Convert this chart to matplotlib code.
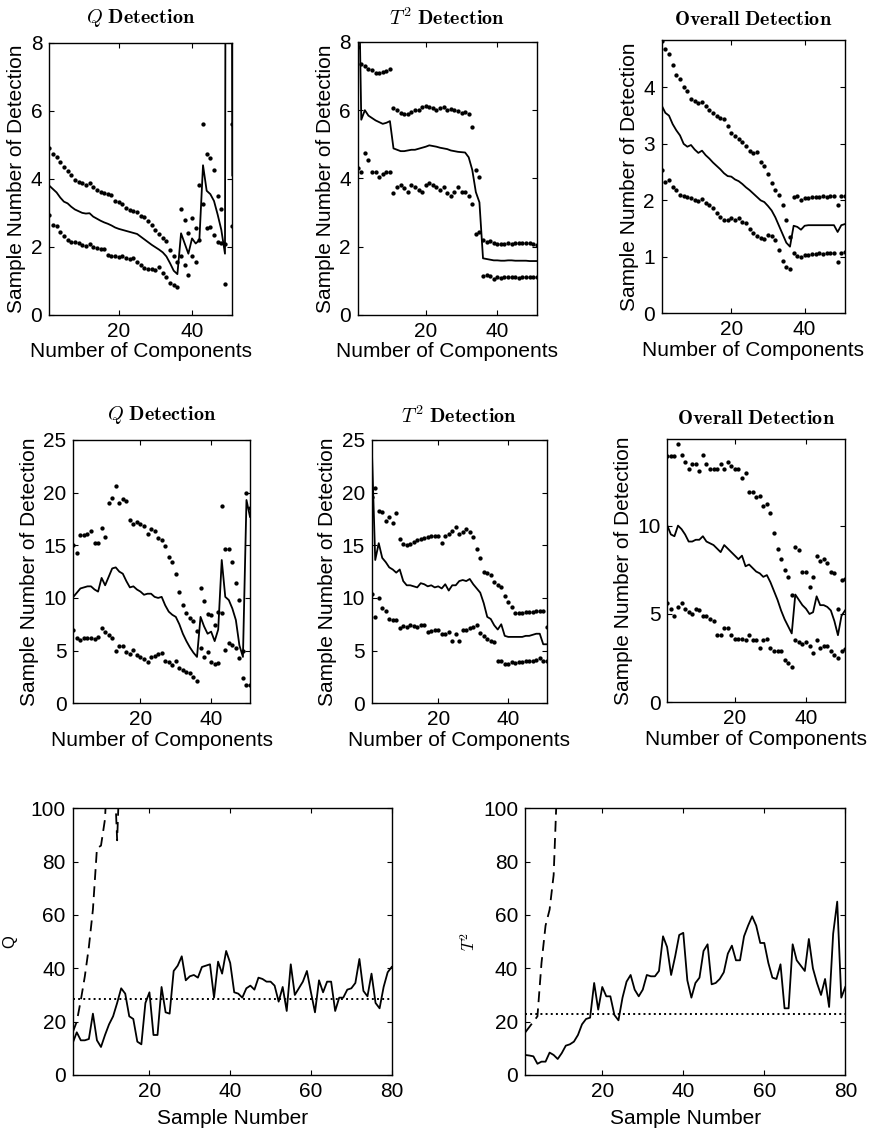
import numpy as np
import matplotlib
matplotlib.use("Agg")
import matplotlib.pyplot as plt

plt.rcParams['font.family'] = ['Liberation Sans', 'DejaVu Sans']
plt.rcParams['mathtext.fontset'] = 'cm'

comp = np.arange(1, 52)   # numero de componentes
samp = np.arange(1, 81)   # numero de muestra

# ---- fila 1 ----
q1_mean = [3.8, 3.7, 3.6, 3.45, 3.33, 3.28, 3.18, 3.1, 3.05, 3.0,
           2.98, 2.99, 2.89, 2.83, 2.77, 2.72, 2.68, 2.63, 2.57, 2.53,
           2.5, 2.47, 2.44, 2.41, 2.38, 2.3, 2.22, 2.14, 2.06, 1.99,
           1.92, 1.84, 1.72, 1.52, 1.3, 1.2, 2.4, 2.1, 1.8, 2.25,
           2.1, 2.2, 4.4, 3.65, 3.55, 3.35, 2.95, 2.5, 1.8, 60.0, 4.1]
q1_upper = [4.9, 4.72, 4.65, 4.5, 4.35, 4.22, 4.1, 3.98, 3.92, 3.87,
            3.83, 3.88, 3.76, 3.68, 3.62, 3.58, 3.55, 3.53, 3.36, 3.31,
            3.26, 3.15, 3.09, 3.06, 3.02, 2.92, 2.88, 2.75, 2.63, 2.5,
            2.38, 2.25, 2.16, 1.92, 1.72, 1.55, 3.12, 2.8, 2.4, 2.85,
            2.55, 3.82, 5.6, 4.73, 4.62, 4.25, 3.5, 3.12, 2.1, 65.0, 5.6]
q1_lower = [2.95, 2.65, 2.62, 2.45, 2.32, 2.2, 2.15, 2.14, 2.12, 2.06,
            2.02, 2.08, 2.0, 1.97, 1.94, 1.93, 1.75, 1.72, 1.72, 1.71,
            1.73, 1.66, 1.64, 1.68, 1.55, 1.46, 1.38, 1.35, 1.34, 1.33,
            1.42, 1.23, 1.13, 0.95, 0.88, 0.83, 1.72, 1.47, 1.18, 1.72,
            1.57, 2.2, 3.25, 2.55, 2.58, 2.35, 2.15, 2.12, 0.9, 55.0, 2.6]

t1_mean = [12.0, 5.72, 6.0, 5.84, 5.77, 5.7, 5.65, 5.6, 5.63, 5.68,
           4.88, 4.84, 4.8, 4.8, 4.82, 4.84, 4.84, 4.87, 4.9, 4.93,
           4.97, 4.95, 4.93, 4.9, 4.88, 4.86, 4.82, 4.8, 4.78, 4.77,
           4.76, 4.62, 4.25, 3.6, 3.3, 1.66, 1.64, 1.62, 1.6, 1.6,
           1.59, 1.59, 1.6, 1.6, 1.59, 1.59, 1.59, 1.59, 1.58, 1.58, 1.58]
t1_upper = [7.85, 7.35, 7.3, 7.2, 7.18, 7.1, 7.08, 7.12, 7.15, 7.2,
            6.06, 6.0, 5.92, 5.88, 5.9, 5.96, 6.02, 6.0, 6.1, 6.13,
            6.08, 6.06, 6.02, 6.06, 6.1, 6.02, 6.04, 6.0, 5.98, 5.92,
            5.95, 5.88, 5.52, 4.25, 4.05, 2.2, 2.15, 2.17, 2.1, 2.08,
            2.08, 2.09, 2.1, 2.09, 2.1, 2.1, 2.1, 2.11, 2.1, 2.08, 2.05]
t1_lower = [4.3, 4.19, 4.76, 4.54, 4.2, 4.2, 4.05, 4.13, 4.2, 4.2,
            3.58, 3.76, 3.81, 3.71, 3.61, 3.81, 3.76, 3.66, 3.61, 3.81,
            3.87, 3.81, 3.76, 3.66, 3.76, 3.56, 3.48, 3.61, 3.76, 3.61,
            3.61, 3.5, 3.25, 2.38, 2.43, 1.15, 1.16, 1.15, 1.06, 1.1,
            1.08, 1.1, 1.11, 1.1, 1.1, 1.08, 1.1, 1.12, 1.1, 1.1, 1.1]

o1_mean = [3.68, 3.55, 3.5, 3.35, 3.24, 3.15, 3.0, 2.95, 2.98, 2.9,
           2.84, 2.88, 2.8, 2.74, 2.67, 2.61, 2.55, 2.48, 2.43, 2.42,
           2.37, 2.34, 2.29, 2.23, 2.18, 2.12, 2.06, 2.0, 1.97, 1.9,
           1.82, 1.7, 1.55, 1.4, 1.25, 1.18, 1.55, 1.53, 1.48, 1.55,
           1.56, 1.56, 1.56, 1.56, 1.56, 1.56, 1.56, 1.56, 1.44, 1.56, 1.58]
o1_upper = [4.82, 4.68, 4.6, 4.4, 4.22, 4.15, 4.0, 3.93, 3.8, 3.76,
            3.73, 3.74, 3.67, 3.6, 3.55, 3.5, 3.46, 3.44, 3.32, 3.2,
            3.14, 3.08, 3.04, 2.97, 2.88, 2.84, 2.86, 2.68, 2.6, 2.47,
            2.3, 2.18, 2.09, 1.92, 1.66, 1.35, 2.06, 2.07, 2.0, 2.05,
            2.05, 2.06, 2.06, 2.06, 2.07, 2.06, 2.07, 2.07, 1.92, 2.07, 2.08]
o1_lower = [2.54, 2.33, 2.36, 2.24, 2.18, 2.1, 2.07, 2.06, 2.04, 2.0,
            1.98, 2.02, 1.95, 1.92, 1.86, 1.78, 1.7, 1.65, 1.65, 1.68,
            1.66, 1.68, 1.62, 1.6, 1.5, 1.42, 1.36, 1.33, 1.31, 1.39,
            1.36, 1.3, 1.12, 0.92, 0.82, 0.78, 1.06, 1.02, 1.0, 1.04,
            1.04, 1.05, 1.05, 1.06, 1.05, 1.06, 1.06, 1.06, 0.91, 1.07, 1.09]

# ---- fila 2 ----
q2_mean = [10.1, 10.5, 10.9, 11.0, 11.1, 11.1, 10.8, 10.6, 11.9, 11.2,
           12.0, 12.8, 12.9, 12.5, 12.3, 11.6, 11.0, 11.1, 10.8, 10.6,
           10.3, 10.4, 10.4, 10.1, 10.0, 10.1, 9.3, 8.7, 8.4, 8.2,
           7.5, 6.6, 5.9, 5.3, 4.8, 4.4, 8.2, 7.3, 6.6, 6.8,
           5.9, 7.0, 13.6, 10.1, 9.8, 9.0, 7.9, 5.5, 4.4, 19.3, 17.7]
q2_upper = [15.0, 14.3, 16.0, 16.0, 16.1, 16.4, 15.2, 15.2, 16.6, 15.8,
            19.0, 19.5, 20.6, 19.0, 19.4, 19.2, 17.4, 17.0, 17.2, 17.0,
            16.8, 16.1, 16.5, 16.4, 15.7, 15.5, 14.9, 13.9, 13.4, 12.3,
            10.6, 9.3, 8.6, 8.1, 7.8, 6.9, 10.9, 9.7, 8.5, 8.4,
            7.4, 8.7, 18.7, 14.6, 14.6, 13.4, 11.4, 9.8, 5.0, 20.0, 18.5]
q2_lower = [7.0, 6.2, 6.0, 6.2, 6.2, 6.2, 6.1, 6.3, 7.1, 6.8,
            6.5, 6.2, 5.0, 5.4, 5.4, 4.9, 4.7, 5.1, 4.6, 4.4,
            4.2, 3.9, 4.4, 4.5, 4.7, 4.8, 4.0, 3.9, 3.6, 4.0,
            3.3, 3.2, 3.0, 2.9, 2.5, 2.1, 5.2, 4.4, 4.9, 3.9,
            3.7, 3.8, 8.6, 5.1, 5.7, 5.5, 5.2, 4.3, 2.4, 1.7, 1.7]

t2_mean = [24.5, 13.6, 15.2, 13.8, 13.4, 12.9, 12.7, 12.4, 12.7, 11.6,
           11.2, 11.2, 11.1, 11.0, 11.4, 11.3, 11.1, 11.2, 11.0, 11.1,
           10.9, 11.3, 10.7, 11.2, 11.2, 11.6, 11.7, 11.6, 11.8, 11.3,
           10.9, 10.5, 9.5, 8.2, 8.0, 7.4, 7.0, 7.5, 6.4, 6.3,
           6.3, 6.3, 6.3, 6.3, 6.4, 6.4, 6.5, 6.6, 6.6, 5.6, 5.6]
t2_upper = [19.6, 20.4, 18.3, 18.2, 17.3, 17.7, 17.1, 18.1, 15.6, 15.1,
            15.0, 15.1, 15.3, 15.5, 15.6, 15.7, 15.8, 15.9, 15.9, 15.9,
            15.2, 15.9, 16.1, 16.4, 16.7, 16.1, 16.3, 16.5, 16.3, 15.8,
            14.6, 13.8, 12.5, 12.4, 12.2, 11.5, 11.2, 11.0, 10.2, 9.6,
            9.1, 8.6, 8.6, 8.6, 8.7, 8.7, 8.7, 8.8, 8.8, 8.75, 7.2]
t2_lower = [10.4, 8.2, 10.0, 9.0, 8.8, 8.0, 7.9, 7.9, 7.1, 7.3,
            7.2, 7.4, 7.3, 7.2, 7.4, 7.4, 6.8, 6.9, 7.0, 7.0,
            6.6, 6.6, 6.8, 5.9, 6.6, 5.9, 7.0, 7.0, 7.1, 7.2,
            7.4, 6.7, 6.4, 6.1, 5.9, 5.8, 4.0, 4.0, 3.7, 3.7,
            3.9, 3.8, 3.9, 3.9, 4.0, 4.0, 4.0, 4.1, 4.3, 4.0, 4.0]

o2_mean = [10.0, 9.5, 9.4, 10.0, 9.8, 9.5, 9.1, 9.1, 9.2, 9.2,
           9.4, 9.1, 9.0, 8.9, 8.7, 8.5, 8.9, 8.7, 8.5, 8.3,
           8.1, 8.3, 7.7, 7.8, 7.6, 7.4, 7.3, 7.1, 7.2, 6.8,
           6.3, 5.8, 5.2, 4.7, 4.3, 3.9, 6.1, 5.8, 5.5, 5.3,
           5.0, 5.1, 6.0, 5.5, 5.5, 5.4, 5.2, 4.6, 3.8, 4.9, 5.2]
o2_upper = [13.95, 13.95, 13.95, 14.6, 14.0, 13.6, 13.2, 13.5, 13.5, 13.1,
            14.0, 13.5, 13.2, 13.2, 13.2, 13.5, 13.2, 13.6, 13.4, 13.2,
            13.2, 12.7, 13.0, 11.9, 11.9, 11.6, 11.7, 11.1, 11.2, 10.7,
            9.6, 8.7, 8.1, 7.5, 7.1, 6.1, 8.8, 8.6, 7.4, 7.4,
            6.5, 7.1, 8.3, 8.0, 8.1, 7.9, 7.4, 7.3, 5.3, 6.9, 7.0]
o2_lower = [5.6, 5.3, 4.9, 5.4, 5.6, 5.3, 5.1, 5.0, 5.3, 5.2,
            4.9, 4.9, 4.7, 4.6, 3.8, 3.8, 4.2, 4.2, 3.8, 3.6,
            3.6, 3.6, 3.5, 3.8, 3.5, 3.5, 3.1, 3.5, 3.6, 3.1,
            2.9, 2.9, 2.9, 2.4, 2.2, 2.0, 3.5, 3.4, 3.3, 3.4,
            3.2, 2.8, 3.5, 3.1, 3.2, 3.2, 2.9, 2.7, 2.5, 2.9, 3.0]

# ---- fila 3 ----
q_stat = [12, 16, 13, 13, 13.5, 23, 13, 10.5, 15, 19,
          22, 27, 32.5, 30.5, 22, 21, 12.5, 11.5, 27, 31,
          15, 15, 33, 23.5, 23, 39, 41, 44.5, 35.5, 37,
          37.5, 36.5, 40.5, 41, 41.5, 29, 42.5, 38, 46.5, 42,
          31, 30.5, 29, 32.5, 33.5, 32, 36.5, 36, 35, 35,
          33.5, 27.5, 33, 24, 41.5, 30, 32.5, 35, 39, 31,
          23.5, 35.5, 31, 35, 35, 24, 29, 29, 32, 32.5,
          34.5, 43.5, 31.5, 29.5, 38, 27, 25, 33, 38.5, 40.5]
q_dash = [16, 20, 28, 37, 48, 62, 85, 86, 96, 130, 125, 88, 130, 160]
q_lim = 28.6

t2_stat = [7.5, 7.3, 7, 4.2, 5, 5, 8.4, 7.5, 6, 8.2,
           11, 11.5, 12.5, 15, 19, 21, 21.5, 34.5, 24.5, 33,
           29.5, 29.5, 22.5, 20.5, 29, 35, 37.5, 32, 29.5, 32,
           37.5, 37, 37, 39, 52, 48, 37.5, 44.5, 52.5, 53.3,
           35.5, 29, 34.5, 36.5, 46.5, 49, 34, 34.5, 36, 38.5,
           45.5, 48.5, 43, 43, 52, 56, 59.5, 56, 49.5, 49.5,
           42, 36.5, 36, 41.5, 25, 25, 49, 43, 41, 39,
           51, 40, 34.5, 30, 36, 25.5, 53, 65, 29, 33]
t2_dash = [16, 18, 20, 22, 42, 56, 62, 75, 115, 150]
t2_lim = 22.8

fig = plt.figure(figsize=(8.72, 11.33), dpi=100)


def estilo(ax):
    # estilo tipo matlab: ticks hacia adentro en los cuatro lados
    ax.tick_params(direction='in', top=True, right=True, length=3.5,
                   width=0.8, labelsize=15, pad=5)
    for s in ax.spines.values():
        s.set_linewidth(1.0)


def panel(rect, mean, upper, lower, ymax, yticks, title, tpad):
    ax = fig.add_axes(rect)
    ax.plot(comp, mean, '-', color='k', lw=1.3)
    ax.plot(comp, upper, 'o', color='k', ms=3.1, mew=0)
    ax.plot(comp, lower, 'o', color='k', ms=3.1, mew=0)
    ax.set_xlim(1, 51)
    ax.set_ylim(0, ymax)
    ax.set_xticks([20, 40])
    ax.set_yticks(yticks)
    estilo(ax)
    ax.set_title(title, fontsize=14.5, pad=tpad)
    ax.set_xlabel('Number of Components', fontsize=15, labelpad=1)
    ax.set_ylabel('Sample Number of Detection', fontsize=15, labelpad=3)
    return ax


tq = r'$Q\ \mathbf{Detection}$'
tt = r'$T^2\ \mathbf{Detection}$'
to = r'$\mathbf{Overall\ Detection}$'

panel([0.0565, 0.7220, 0.2099, 0.2403], q1_mean, q1_upper, q1_lower, 8, [0, 2, 4, 6, 8], tq, 14)
panel([0.4102, 0.7220, 0.2053, 0.2410], t1_mean, t1_upper, t1_lower, 8, [0, 2, 4, 6, 8], tt, 12)
panel([0.7588, 0.7235, 0.2102, 0.2412], o1_mean, o1_upper, o1_lower, 4.84, [0, 1, 2, 3, 4], to, 11)
panel([0.0841, 0.3793, 0.2026, 0.2324], q2_mean, q2_upper, q2_lower, 25, [0, 5, 10, 15, 20, 25], tq, 14)
panel([0.4263, 0.3793, 0.2007, 0.2324], t2_mean, t2_upper, t2_lower, 25, [0, 5, 10, 15, 20, 25], tt, 12)
panel([0.7653, 0.3801, 0.2038, 0.2324], o2_mean, o2_upper, o2_lower, 14.9, [0, 5, 10], to, 11)

# graficas de Q y T2 contra el numero de muestra
ax7 = fig.add_axes([0.0834, 0.0512, 0.3658, 0.2354])
ax7.plot(samp, q_stat, '-', color='k', lw=1.3)
ax7.plot(samp[:len(q_dash)], q_dash, '--', color='k', lw=1.3, dashes=(6, 3.5))
ax7.plot(samp, np.full(len(samp), q_lim), ':', color='k', lw=1.4)
ax7.set_xlim(1, 80)
ax7.set_ylim(0, 100)
ax7.set_xticks([20, 40, 60, 80])
ax7.set_yticks([0, 20, 40, 60, 80, 100])
estilo(ax7)
ax7.set_xlabel('Sample Number', fontsize=15, labelpad=6)
ax7.set_ylabel('Q', fontsize=12, labelpad=10)

ax8 = fig.add_axes([0.6024, 0.0512, 0.3670, 0.2354])
ax8.plot(samp, t2_stat, '-', color='k', lw=1.3)
ax8.plot(samp[:len(t2_dash)], t2_dash, '--', color='k', lw=1.3, dashes=(6, 3.5))
ax8.plot(samp, np.full(len(samp), t2_lim), ':', color='k', lw=1.4)
ax8.set_xlim(1, 80)
ax8.set_ylim(0, 100)
ax8.set_xticks([20, 40, 60, 80])
ax8.set_yticks([0, 20, 40, 60, 80, 100])
estilo(ax8)
ax8.set_xlabel('Sample Number', fontsize=15, labelpad=6)
ax8.set_ylabel(r'$T^2$', fontsize=12, labelpad=4)

fig.savefig('out.png', dpi=100)
